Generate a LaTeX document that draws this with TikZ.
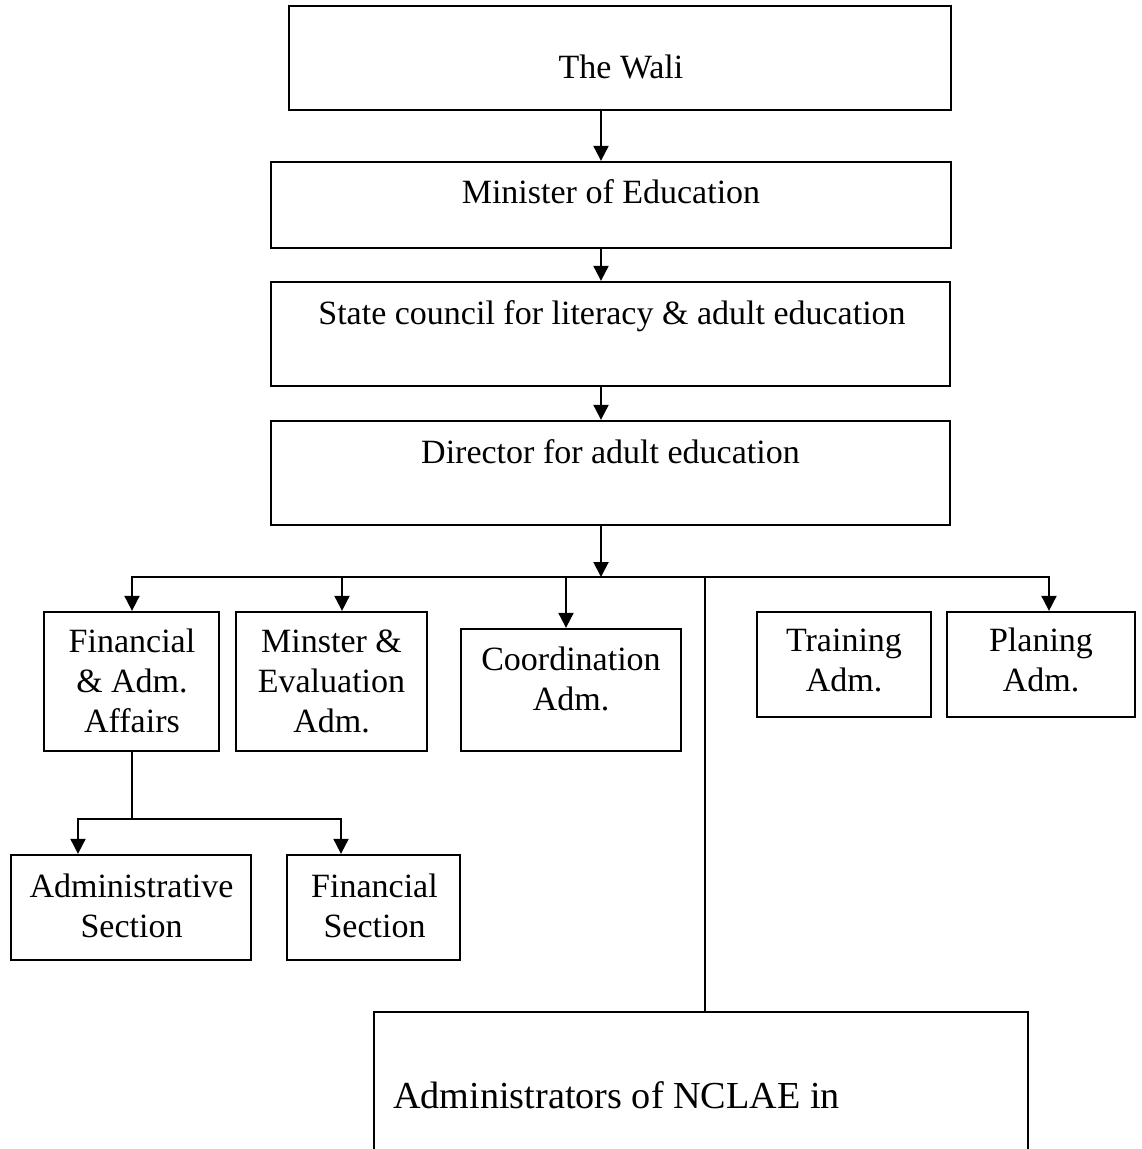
\documentclass[tikz,border=0pt]{standalone}
\usepackage{fontspec}
\setmainfont{Liberation Serif}
\usetikzlibrary{arrows.meta}
\newcommand{\stacklines}[1]{\begin{tabular}[t]{@{}c@{}}#1\end{tabular}}

\begin{document}
\begin{tikzpicture}[x=1pt,y=-1pt,
  box/.style={draw, line width=2.3pt, inner sep=0pt},
  lbl/.style={inner sep=0pt, anchor=base, font=\fontsize{34}{40}\selectfont},
  link/.style={line width=2pt, line cap=rect},
  arr/.style={line width=2pt, -{Triangle[width=15pt,length=15pt]}}]

\useasboundingbox (0,0) rectangle (1141,1149);

% ---- boxes ----
\node[box, minimum width=662pt, minimum height=104pt] (wali)     at (620,58)    {};
\node[box, minimum width=680pt, minimum height=86pt]  (minister) at (611,205)   {};
\node[box, minimum width=679pt, minimum height=104pt] (council)  at (610.5,334) {};
\node[box, minimum width=679pt, minimum height=104pt] (director) at (610.5,473) {};

\node[box, minimum width=175pt, minimum height=139pt] (fin)   at (131.5,681.5) {};
\node[box, minimum width=191pt, minimum height=139pt] (mev)   at (331.5,681.5) {};
\node[box, minimum width=220pt, minimum height=122pt] (coord) at (571,690)     {};
\node[box, minimum width=174pt, minimum height=105pt] (train) at (844,664.5)   {};
\node[box, minimum width=188pt, minimum height=105pt] (plan)  at (1041,664.5)  {};

\node[box, minimum width=240pt, minimum height=105pt] (adm)  at (131,907.5)   {};
\node[box, minimum width=173pt, minimum height=105pt] (fsec) at (373.5,907.5) {};

\node[box, minimum width=654pt, minimum height=180pt] (nclae) at (701,1102) {};

% ---- texts ----
\node[lbl] (tWali)    at (621,78)    {The Wali};
\node[lbl] (tMin)     at (611,203)   {Minister of Education};
\node[lbl] (tCouncil) at (612,324)   {State council for literacy \& adult education};
\node[lbl] (tDir)     at (610.5,463) {Director for adult education};

\node[lbl] (tFin)   at (132,652)   {\stacklines{Financial\\ \& Adm.\\ Affairs}};
\node[lbl] (tMev)   at (331.5,652) {\stacklines{Minster \&\\ Evaluation\\ Adm.}};
\node[lbl] (tCoord) at (571,670)   {\stacklines{Coordination\\ Adm.}};
\node[lbl] (tTrain) at (844,651)   {\stacklines{Training\\ Adm.}};
\node[lbl] (tPlan)  at (1041,651)  {\stacklines{Planing\\ Adm.}};

\node[lbl] (tAdm)  at (131.5,897) {\stacklines{Administrative\\ Section}};
\node[lbl] (tFsec) at (374.5,897) {\stacklines{Financial\\ Section}};

\node[inner sep=0pt, anchor=base west, font=\fontsize{38.2}{44}\selectfont]
  (tNclae) at (393,1108) {Administrators of NCLAE in};

% ---- connectors ----
\coordinate (spine) at (601,0);
\draw[arr] (spine |- wali.south)     -- (spine |- minister.north);
\draw[arr] (spine |- minister.south) -- (spine |- council.north);
\draw[arr] (spine |- council.south)  -- (spine |- director.north);

\coordinate (bF) at (132,577);
\coordinate (bM) at (342,577);
\coordinate (bC) at (566,577);
\coordinate (bN) at (705,577);
\coordinate (bP) at (1049,577);

\draw[arr] (spine |- director.south) -- (spine |- bF);
\draw[link] (bF) -- (bP);
\draw[arr] (bF) -- (bF |- fin.north);
\draw[arr] (bM) -- (bM |- mev.north);
\draw[arr] (bC) -- (bC |- coord.north);
\draw[arr] (bP) -- (bP |- plan.north);
\draw[link] (bN) -- (bN |- nclae.north);

\coordinate (sub) at (132,819);
\coordinate (sA) at (78,819);
\coordinate (sS) at (341,819);
\draw[link] (sub |- fin.south) -- (sub);
\draw[link] (sA) -- (sS);
\draw[arr] (sA) -- (sA |- adm.north);
\draw[arr] (sS) -- (sS |- fsec.north);
\end{tikzpicture}
\end{document}
